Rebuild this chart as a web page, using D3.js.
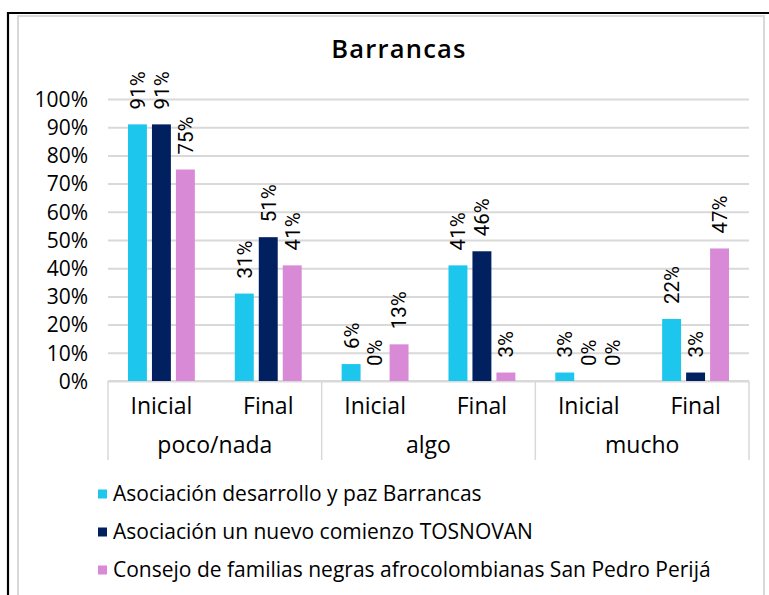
<!DOCTYPE html>
<html><head><meta charset="utf-8">
<script src="https://cdn.jsdelivr.net/npm/d3@7"></script>
<style>
html,body{margin:0;padding:0;background:#fff;}
svg{display:block;font-family:"Open Sans",sans-serif;}
</style></head>
<body>
<svg id="c" width="769" height="595"></svg>
<script>
const title = "Barrancas";
const groups = ["poco/nada", "algo", "mucho"];
const subs = ["Inicial", "Final"];
const seriesNames = [
  "Asociación desarrollo y paz Barrancas",
  "Asociación un nuevo comienzo TOSNOVAN",
  "Consejo de familias negras afrocolombianas San Pedro Perijá"
];
const seriesColors = ["#1dc6ed", "#002060", "#d98ad6"];
const desarrollo = [0.91, 0.31, 0.06, 0.41, 0.03, 0.22];
const tosnovan   = [0.91, 0.51, 0.00, 0.46, 0.00, 0.03];
const consejo    = [0.75, 0.41, 0.13, 0.03, 0.00, 0.47];
const yTicks = [0, 0.1, 0.2, 0.3, 0.4, 0.5, 0.6, 0.7, 0.8, 0.9, 1.0];

(function () {
const values = [desarrollo, tosnovan, consejo];
const cats = [];
groups.forEach(g => subs.forEach(s => cats.push({g, s, key: g + "|" + s})));

const svg = d3.select("#c");

// frame
svg.append("rect").attr("x", 18).attr("y", 16).attr("width", 746).attr("height", 590)
  .attr("fill", "none").attr("stroke", "#d9d9d9").attr("stroke-width", 2);
svg.append("path").attr("d", "M8,600 V13 H780")
  .attr("fill", "none").attr("stroke", "#000").attr("stroke-width", 2.2);

const pL = 108, pR = 749, pT = 99, pB = 381;
const y = d3.scaleLinear().domain([0, 1]).range([pB, pT]);
const x0 = d3.scaleBand().domain(cats.map(c => c.key)).range([pL, pR]);
const bw = x0.bandwidth();
const x1 = d3.scaleBand().domain([0, 1, 2]).range([bw * 0.187, bw * 0.813]).paddingInner(0.21);
const xg = d3.scaleBand().domain(groups).range([pL, pR]);

// title
svg.append("text").attr("x", 399).attr("y", 58).attr("text-anchor", "middle")
  .attr("font-family", "Open Sans, sans-serif").attr("letter-spacing", "1.2px")
  .attr("font-size", 25.5).attr("font-weight", 600).attr("fill", "#000").text(title);

// gridlines
const yAxis = d3.axisLeft(y).tickValues(yTicks).tickFormat(d3.format(".0%")).tickSize(-(pR - pL)).tickPadding(20);
const ya = svg.append("g").attr("transform", `translate(${pL},0)`).call(yAxis);
ya.select(".domain").remove();
ya.selectAll(".tick line").attr("stroke", "#d9d9d9").attr("stroke-width", 2);
ya.selectAll(".tick text").attr("font-size", 21).attr("fill", "#000")
  .attr("font-family", "Open Sans, sans-serif").attr("x", 88 - pL).attr("dy", "0.35em");

// category axis
const cat = svg.append("g");
cat.append("line").attr("x1", pL).attr("x2", pR).attr("y1", pB).attr("y2", pB)
  .attr("stroke", "#d9d9d9").attr("stroke-width", 2);
const seps = groups.map(g => xg(g)).concat([pR]);
cat.selectAll("line.sep").data(seps).join("line").attr("class", "sep")
  .attr("x1", d => d).attr("x2", d => d).attr("y1", pB).attr("y2", 460)
  .attr("stroke", "#d9d9d9").attr("stroke-width", 1.5);
cat.selectAll("text.sub").data(cats).join("text").attr("class", "sub")
  .attr("x", d => x0(d.key) + bw / 2).attr("y", 414).attr("text-anchor", "middle")
  .attr("font-size", 23).attr("fill", "#000").text(d => d.s);
cat.selectAll("text.grp").data(groups).join("text").attr("class", "grp")
  .attr("x", d => xg(d) + xg.bandwidth() / 2).attr("y", 453).attr("text-anchor", "middle")
  .attr("font-size", 23).attr("fill", "#000").text(d => d);

// bars
const bars = [];
values.forEach((arr, si) => arr.forEach((v, ci) => bars.push({si, ci, v})));
svg.append("g").selectAll("rect").data(bars).join("rect")
  .attr("x", d => x0(cats[d.ci].key) + x1(d.si))
  .attr("width", x1.bandwidth())
  .attr("y", d => y(d.v))
  .attr("height", d => y(0) - y(d.v))
  .attr("fill", d => seriesColors[d.si]);

// labels
svg.append("g").selectAll("text").data(bars).join("text")
  .attr("transform", d => {
    const cx = x0(cats[d.ci].key) + x1(d.si) + x1.bandwidth() / 2;
    return `translate(${cx},${y(d.v) - 15}) rotate(-90)`;
  })
  .attr("dy", "0.36em").attr("font-size", 20.5).attr("fill", "#000")
  .attr("font-family", "Roboto, sans-serif")
  .text(d => d3.format(".0%")(d.v));

// legend
const lg = svg.append("g");
seriesNames.forEach((n, i) => {
  const yy = 494 + i * 38;
  lg.append("rect").attr("x", 98).attr("y", yy - 4.5).attr("width", 9).attr("height", 9).attr("fill", seriesColors[i]);
  lg.append("text").attr("x", 113).attr("y", yy).attr("dy", "0.35em")
    .attr("font-size", 21).attr("fill", "#000").text(n);
});
})();
</script>
</body></html>
